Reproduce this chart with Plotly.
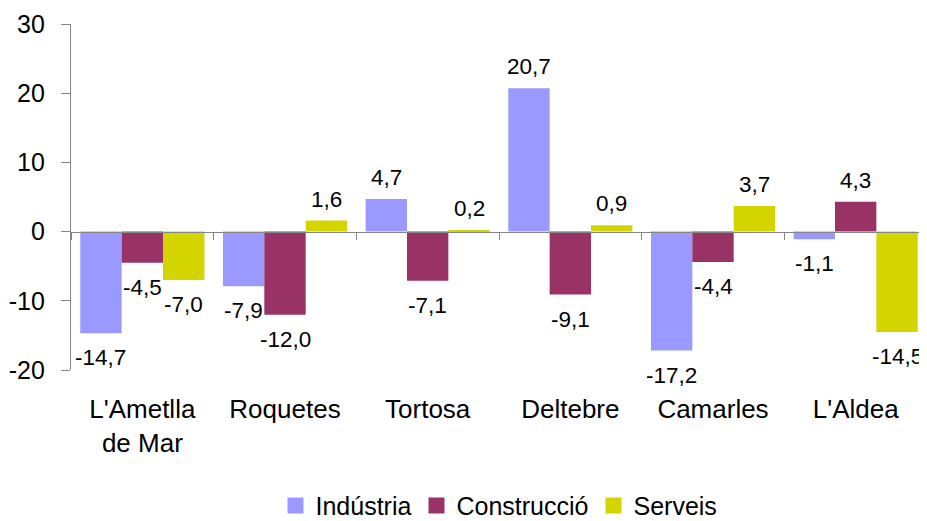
import plotly.graph_objects as go

categories = ["L'Ametlla<br>de Mar", "Roquetes", "Tortosa", "Deltebre", "Camarles", "L'Aldea"]
industria = [-14.7, -7.9, 4.7, 20.7, -17.2, -1.1]
construccio = [-4.5, -12.0, -7.1, -9.1, -4.4, 4.3]
serveis = [-7.0, 1.6, 0.2, 0.9, 3.7, -14.5]
series_names = ["Indústria", "Construcció", "Serveis"]
colors = ["#9999FF", "#993366", "#D4D400"]
y_ticks = [-20, -10, 0, 10, 20, 30]
y_ticktext = ["-20", "-10", "0", "10", "20", "30"]

FONT = "Liberation Sans, Arial, sans-serif"
BARGAP = 0.13
n = len(categories)
all_series = [industria, construccio, serveis]
nser = len(all_series)
bar_w = (1 - BARGAP) / nser

fig = go.Figure()
annotations = []
for k, (name, vals, col) in enumerate(zip(series_names, all_series, colors)):
    fig.add_trace(go.Bar(
        x=list(range(n)), y=vals, name=name, legendgroup=name, showlegend=False,
        marker=dict(color=col, line=dict(width=0)),
        hoverinfo="x+y",
    ))
    off = (k - (nser - 1) / 2) * bar_w
    for i, v in enumerate(vals):
        annotations.append(dict(
            x=i + off, y=v, xref="x", yref="y",
            text=f"{v:.1f}".replace(".", ","), showarrow=False,
            yanchor="bottom" if v >= 0 else "top",
            yshift=7 if v >= 0 else -10,
            font=dict(family=FONT, size=22.5, color="#000000"),
        ))

# legend entries (square swatches)
for name, col in zip(series_names, colors):
    fig.add_trace(go.Scatter(
        x=[None], y=[None], mode="markers", name=name, legendgroup=name,
        marker=dict(symbol="square", size=18, color=col), showlegend=True,
    ))

fig.update_layout(
    width=919, height=513,
    margin=dict(l=63, r=0, t=16, b=151, autoexpand=False),
    paper_bgcolor="white", plot_bgcolor="white",
    barmode="group", bargap=BARGAP, bargroupgap=0,
    font=dict(family=FONT, size=24, color="#000000"),
    showlegend=True,
    legend=dict(orientation="h", x=0.5, xanchor="center", y=-0.392, yanchor="middle",
                font=dict(family=FONT, size=25, color="#000000"),
                itemwidth=30, itemsizing="trace", traceorder="normal"),
    annotations=annotations,
    xaxis=dict(range=[-0.5, n - 0.5], tickvals=list(range(n)), ticktext=categories,
               showline=False, showgrid=False, zeroline=False, automargin=False,
               ticks="outside", ticklen=16, tickcolor="rgba(0,0,0,0)",
               tickfont=dict(family=FONT, size=26, color="#000000")),
    xaxis2=dict(overlaying="x", anchor="free", position=0.4, range=[-0.5, n - 0.5],
                tickvals=[i - 0.5 for i in range(n + 1)], showticklabels=False,
                ticks="outside", ticklen=7, tickcolor="#868686", tickwidth=1,
                showline=True, linecolor="#868686", linewidth=1.3,
                showgrid=False, zeroline=False),
    yaxis=dict(range=[-20, 30], tickvals=y_ticks, ticktext=y_ticktext,
               showgrid=False, zeroline=False, automargin=False,
               showline=True, linecolor="#868686", linewidth=1.3,
               ticks="outside", ticklen=9, tickcolor="#868686",
               ticklabelstandoff=11,
               tickfont=dict(family=FONT, size=25, color="#000000")),
)
fig.add_trace(go.Scatter(x=[None], y=[None], xaxis="x2", showlegend=False, hoverinfo="skip"))

fig.write_html("out.html")
